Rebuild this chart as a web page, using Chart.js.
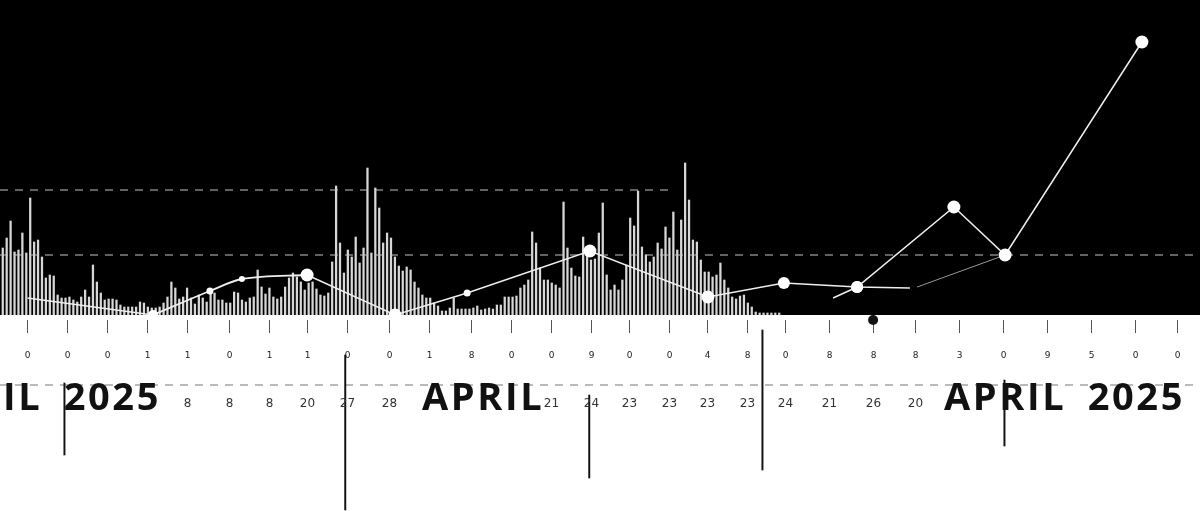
<!DOCTYPE html>
<html>
<head>
<meta charset="utf-8">
<script src="https://cdn.jsdelivr.net/npm/chart.js@4/dist/chart.umd.min.js"></script>
<style>
  html, body { margin: 0; background: #fff; }
  #wrap { position: relative; width: 1200px; height: 511px; }
</style>
</head>
<body>
<div id="wrap"><canvas id="chart"></canvas></div>
<script>
// thin volume bars, left to right
const volume = [
  33.5, 38.5, 47, 31.5, 32.5, 41, 31, 58.5, 36.5, 37.5, 29, 18.5, 20, 19.5, 10, 8.5, 8.5, 9, 7.5, 6.5,
  9, 12.5, 9, 25, 16.5, 11, 7.5, 8, 8, 7.5, 5, 4, 4, 4, 4, 6.5, 6, 4, 3.5, 3.5,
  4, 6, 9, 16.5, 13.5, 8, 9, 13.5, 8.5, 5.5,
  10, 8.5, 6.5, 11.5, 11, 7.5, 7.5, 6, 6, 11.5, 11, 7.5, 6.5, 8.5, 9, 22.5, 14, 10.5, 13.5, 9,
  8, 9, 14, 18.5, 21, 19, 16.5, 12.5, 16, 16.5, 13, 10, 9.5, 11, 26.5, 64.5, 36, 21, 32.5, 29,
  39, 26, 33.5, 73.5, 31, 63.5, 53.5, 36, 41, 38.5,
  29, 24.5, 22, 24, 22.5, 16.5, 13.5, 10, 8.5, 8.5, 6, 4.5, 2, 2, 3.5, 8.5, 3, 3, 3, 3,
  3.5, 4.5, 2.5, 3, 3.5, 3, 5, 5, 9, 9, 9, 9.5, 13.5, 15, 17.5, 41.5, 36, 23.5, 17.5, 17.5,
  16, 15, 13.5, 56.5, 33.5, 23.5, 19.5, 19, 39, 31, 27.5, 28, 41, 56, 20, 12.5, 15, 12.5, 17.5, 25,
  48.5, 44.5, 62, 34, 30, 26.5, 29, 36, 33, 44, 38.5, 51.5, 32.5, 47.5, 76, 57.5, 37.5, 36.5, 27.5, 21.5,
  21.5, 19, 20, 26, 17.5, 13.5, 9, 8, 9.5, 10, 6, 4, 1.5, 1, 1, 1, 1, 1, 1
];
const volumeSlots = 306;

// bottom axis ticks and their two rows of labels
const tickAt = [0, 1, 2, 3, 4, 5.05, 6.05, 7, 8, 9.05, 10.05, 11.1, 12.1, 13.1, 14.1,
  15.05, 16.05, 17, 18, 18.95, 20.05, 21.15, 22.2, 23.3, 24.4, 25.5, 26.6, 27.7, 28.75];
const topLabels = ['0', '0', '0', '1', '1', '0', '1', '1', '0', '0', '1', '8', '0', '0', '9',
  '0', '0', '4', '8', '0', '8', '8', '8', '3', '0', '9', '5', '0', '0'];
const dayLabels = ['', '', '', '', '8', '8', '8', '20', '27', '28', '', '', '', '21', '24',
  '23', '23', '23', '23', '24', '21', '26', '20', '', '', '', '', '', ''];

// main trend line
const trendX = [0, 3.14, 4.56, 5.36, 6.99, 9.19, 10.99, 14.06, 17.01, 18.91, 20.74, 22.06];
const trendY = [8.5, 0, 12, 18, 20, 0, 11, 32, 9, 16, 14, 13.5];
// late rally line
const rallyX = [20.14, 20.74, 23.16, 24.44, 27.86];
const rallyY = [8.5, 14, 54, 30, 136.5];
// faint link
const linkX = [22.24, 24.44];
const linkY = [14, 30];

// dashed guides
const guideHigh = 62.5, guideHighEnd = 16.06;
const guideMid = 30;
const guideLow = -35;

// black markers below the axis
const markerX = [0.94, 7.96, 14.06, 18.39, 24.44];
const markerFrom = [-34, -20, -40, -7.5, -32.5];
const markerTo = [-70, -97.5, -81.5, -77.5, -65.5];
const dotX = [0.94, 24.44, 21.14];
const dotY = [-34, -32.5, -2.5];

const X_MIN = -0.6875, X_MAX = 29.3125;
const Y_MIN = -2.5, Y_MAX = 157.5;

const pts = (xs, ys) => xs.map((x, i) => ({ x: x, y: ys[i] }));
const trend = pts(trendX, trendY);

const backdrop = {
  id: 'backdrop',
  beforeDraw(chart) {
    const { ctx, width, height, scales } = chart;
    ctx.save();
    ctx.fillStyle = '#fff';
    ctx.fillRect(0, 0, width, height);
    ctx.fillStyle = '#000';
    ctx.fillRect(0, 0, width, scales.y.getPixelForValue(0));
    ctx.restore();
  }
};

const captions = {
  id: 'captions',
  afterDraw(chart) {
    const { ctx } = chart;
    const xs = chart.scales.x;
    ctx.save();
    ctx.fillStyle = '#333';
    ctx.font = '12px "DejaVu Sans"';
    ctx.textAlign = 'center';
    ctx.textBaseline = 'middle';
    dayLabels.forEach((t, i) => {
      if (t) ctx.fillText(t, xs.getPixelForValue(tickAt[i]), 404);
    });
    ctx.fillStyle = '#111';
    ctx.font = 'bold 38px "Open Sans"';
    ctx.letterSpacing = '2.6px';
    ctx.wordSpacing = '9px';
    ctx.textBaseline = 'alphabetic';
    ctx.textAlign = 'right';
    ctx.fillText('APRIL 2025', 161, 410);
    ctx.fillText('APRIL 2025', 1185, 410);
    ctx.textAlign = 'left';
    ctx.fillText('APRIL', 422, 410);
    ctx.restore();
  }
};

const whitePoint = { pointBackgroundColor: '#fff', pointBorderColor: '#fff', pointBorderWidth: 0 };

new Chart(document.getElementById('chart'), {
  type: 'bar',
  data: {
    datasets: [
      {
        type: 'line', order: 1, data: trend.slice(0, 2), xAxisID: 'x',
        borderColor: '#eee', borderWidth: 1.5, pointRadius: [0, 5], ...whitePoint, clip: false
      },
      {
        type: 'line', order: 1, data: trend.slice(1, 5), xAxisID: 'x',
        borderColor: '#eee', borderWidth: 1.8, cubicInterpolationMode: 'monotone',
        pointRadius: [0, 3.5, 3, 6.5], ...whitePoint, clip: false
      },
      {
        type: 'line', order: 1, data: trend.slice(4), xAxisID: 'x',
        borderColor: '#eee', borderWidth: 1.5,
        pointRadius: [0, 6.5, 3.5, 6.5, 6.5, 6, 6, 0], ...whitePoint, clip: false
      },
      {
        type: 'line', order: 1, data: pts(rallyX, rallyY), xAxisID: 'x',
        borderColor: '#eee', borderWidth: 1.5,
        pointRadius: [0, 6, 6.5, 6.5, 6.5], ...whitePoint, clip: false
      },
      {
        type: 'line', order: 2, data: pts(linkX, linkY), xAxisID: 'x',
        borderColor: '#999', borderWidth: 1, pointRadius: 0
      },
      {
        type: 'line', order: 3, data: pts([X_MIN, guideHighEnd], [guideHigh, guideHigh]), xAxisID: 'x',
        borderColor: '#c4c4c4', borderWidth: 1.2, borderDash: [8, 7], pointRadius: 0
      },
      {
        type: 'line', order: 3, data: pts([X_MIN, X_MAX], [guideMid, guideMid]), xAxisID: 'x',
        borderColor: '#c4c4c4', borderWidth: 1.2, borderDash: [8, 7], pointRadius: 0
      },
      {
        type: 'line', order: 3, data: pts([X_MIN, X_MAX], [guideLow, guideLow]), xAxisID: 'x',
        borderColor: '#777', borderWidth: 1, borderDash: [8, 7], pointRadius: 0, clip: false
      },
      {
        type: 'bar', order: 2, xAxisID: 'x', clip: false,
        data: markerX.map((x, i) => ({ x: x, y: [markerFrom[i], markerTo[i]] })),
        backgroundColor: '#111', barThickness: 1.3
      },
      {
        type: 'line', order: 1, showLine: false, xAxisID: 'x', clip: false,
        data: pts(dotX, dotY),
        pointRadius: [3, 3, 5], pointBackgroundColor: '#111', pointBorderWidth: 0
      },
      {
        type: 'bar', order: 5, xAxisID: 'xb', data: volume,
        backgroundColor: 'rgba(238,238,238,0.9)', barThickness: 1.6
      }
    ]
  },
  options: {
    responsive: true,
    maintainAspectRatio: false,
    animation: false,
    layout: { padding: 0, autoPadding: false },
    plugins: { legend: { display: false }, tooltip: { enabled: false } },
    scales: {
      xb: {
        type: 'category',
        labels: Array.from({ length: volumeSlots }, (_, i) => String(i)),
        display: false,
        offset: true
      },
      x: {
        type: 'linear',
        position: 'bottom',
        min: X_MIN,
        max: X_MAX,
        offset: false,
        afterBuildTicks: s => { s.ticks = tickAt.map(v => ({ value: v })); },
        afterFit: s => { s.height = 191; },
        border: { display: false },
        grid: { offset: false, drawOnChartArea: false, drawTicks: true, tickLength: 13, color: '#555', lineWidth: 1 },
        ticks: {
          autoSkip: false,
          maxRotation: 0,
          padding: 17,
          color: '#222',
          font: { family: 'DejaVu Sans', size: 9 },
          callback: (v, i) => topLabels[i]
        }
      },
      y: {
        type: 'linear',
        min: Y_MIN,
        max: Y_MAX,
        display: false
      }
    }
  },
  plugins: [backdrop, captions]
});
</script>
</body>
</html>
